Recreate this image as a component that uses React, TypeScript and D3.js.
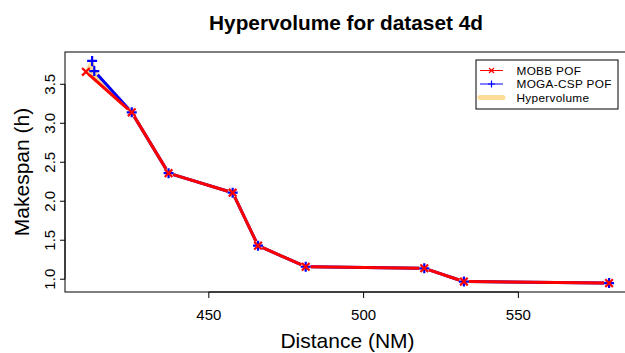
import * as d3 from "d3";

// Pareto fronts
const mobbX = [410.3, 425.1, 437.0, 457.7, 465.9, 481.3, 519.6, 532.4, 579.3];
const mobbY = [3.66, 3.14, 2.36, 2.11, 1.43, 1.16, 1.14, 0.97, 0.95];
const mogaX = [412.3, 413.0, 425.1, 437.0, 457.7, 465.9, 481.3, 519.6, 532.4, 579.3];
const mogaY = [3.8, 3.67, 3.14, 2.36, 2.11, 1.43, 1.16, 1.14, 0.97, 0.95];

const xTicks = [450, 500, 550];
const yTicks = [1.0, 1.5, 2.0, 2.5, 3.0, 3.5];
const legendItems = ["MOBB POF", "MOGA-CSP POF", "Hypervolume"];

const W = 625;
const H = 353;
const FONT = "'Liberation Sans', Arial, Helvetica, sans-serif";
const RED = "#ff0000";
const BLUE = "#0000ff";
const HV = "#fcdc96";

const left = 65;
const right = 630;
const top = 52;
const bottom = 292;

function pad(ext: [number, number]): [number, number] {
  const r = ext[1] - ext[0];
  return [ext[0] - r * 0.04, ext[1] + r * 0.04];
}

const allX = mobbX.concat(mogaX);
const allY = mobbY.concat(mogaY);
const x = d3.scaleLinear().domain(pad(d3.extent(allX) as [number, number])).range([left, right]);
const y = d3.scaleLinear().domain(pad(d3.extent(allY) as [number, number])).range([bottom, top]);

// R type="b": segments stop short of the points
function gappedSegments(xs: number[], ys: number[], gap: number) {
  const segs: string[] = [];
  for (let i = 0; i < xs.length - 1; i++) {
    const x0 = x(xs[i]), y0 = y(ys[i]);
    const x1 = x(xs[i + 1]), y1 = y(ys[i + 1]);
    const len = Math.hypot(x1 - x0, y1 - y0);
    if (len <= gap * 2) continue;
    const ux = (x1 - x0) / len, uy = (y1 - y0) / len;
    segs.push(`M${x0 + ux * gap},${y0 + uy * gap}L${x1 - ux * gap},${y1 - uy * gap}`);
  }
  return segs.join("");
}

function Cross({ cx, cy, r, color, w }: { cx: number; cy: number; r: number; color: string; w: number }) {
  return (
    <path d={`M${cx - r},${cy - r}L${cx + r},${cy + r}M${cx - r},${cy + r}L${cx + r},${cy - r}`} stroke={color} strokeWidth={w} />
  );
}

function Plus({ cx, cy, r, color, w }: { cx: number; cy: number; r: number; color: string; w: number }) {
  return <path d={`M${cx - r},${cy}L${cx + r},${cy}M${cx},${cy - r}L${cx},${cy + r}`} stroke={color} strokeWidth={w} />;
}

export default function App() {
  const hvPoly =
    mogaX.map((v, i) => `${x(v)},${y(mogaY[i])}`).join(" ") +
    " " +
    mobbX
      .map((v, i) => `${x(v)},${y(mobbY[i])}`)
      .reverse()
      .join(" ");

  const lx = 476;
  const ly = 60;
  const rows = [70.5, 84, 97.5];

  return (
    <svg width={W} height={H} style={{ position: "absolute", left: 0, top: 0, background: "#fff" }} fontFamily={FONT}>
      <text x={346} y={30} textAnchor="middle" fontSize={20.8} fontWeight="bold">
        Hypervolume for dataset 4d
      </text>

      {/* hypervolume region */}
      <polygon points={hvPoly} fill={HV} stroke={HV} strokeWidth={3} strokeLinejoin="round" />

      {/* fronts */}
      <path d={gappedSegments(mogaX, mogaY, 5)} stroke={BLUE} strokeWidth={3} fill="none" />
      {mogaX.map((v, i) => (
        <Plus key={"b" + i} cx={x(v)} cy={y(mogaY[i])} r={5} color={BLUE} w={2.2} />
      ))}
      <path d={gappedSegments(mobbX, mobbY, 5)} stroke={RED} strokeWidth={3} fill="none" />
      {mobbX.map((v, i) => (
        <Cross key={"r" + i} cx={x(v)} cy={y(mobbY[i])} r={3.8} color={RED} w={2.2} />
      ))}

      {/* box */}
      <rect x={left} y={top} width={right - left} height={bottom - top} fill="none" stroke="#000" strokeWidth={1} />

      {/* x axis */}
      <line x1={x(xTicks[0])} x2={x(xTicks[xTicks.length - 1])} y1={bottom} y2={bottom} stroke="#000" />
      {xTicks.map((t) => (
        <g key={t}>
          <line x1={x(t)} x2={x(t)} y1={bottom} y2={bottom + 6} stroke="#000" />
          <text x={x(t)} y={319.5} textAnchor="middle" fontSize={15}>
            {t}
          </text>
        </g>
      ))}

      {/* y axis */}
      <line x1={left} x2={left} y1={y(yTicks[0])} y2={y(yTicks[yTicks.length - 1])} stroke="#000" />
      {yTicks.map((t) => (
        <g key={t}>
          <line x1={left - 5} x2={left} y1={y(t)} y2={y(t)} stroke="#000" />
          <text transform={`translate(55,${y(t)}) rotate(-90)`} textAnchor="middle" fontSize={15}>
            {t.toFixed(1)}
          </text>
        </g>
      ))}

      <text x={(left + right) / 2} y={348} textAnchor="middle" fontSize={21}>
        Distance (NM)
      </text>
      <text transform={`translate(29,${(top + bottom) / 2}) rotate(-90)`} textAnchor="middle" fontSize={21}>
        Makespan (h)
      </text>

      {/* legend */}
      <rect x={lx} y={ly} width={142} height={49} fill="#fff" stroke="#000" strokeWidth={1} />
      <line x1={480} x2={503} y1={rows[0]} y2={rows[0]} stroke={RED} strokeWidth={1} />
      <Cross cx={491.5} cy={rows[0]} r={2.5} color={RED} w={1.2} />
      <line x1={480} x2={503} y1={rows[1]} y2={rows[1]} stroke={BLUE} strokeWidth={1} />
      <Plus cx={491.5} cy={rows[1]} r={3.5} color={BLUE} w={1.2} />
      <line x1={480} x2={503} y1={rows[2]} y2={rows[2]} stroke={HV} strokeWidth={5} strokeLinecap="round" />
      {legendItems.map((s, i) => (
        <text key={s} x={516.5} y={rows[i] + 4.2} fontSize={11.8} letterSpacing={0.3}>
          {s}
        </text>
      ))}
    </svg>
  );
}
